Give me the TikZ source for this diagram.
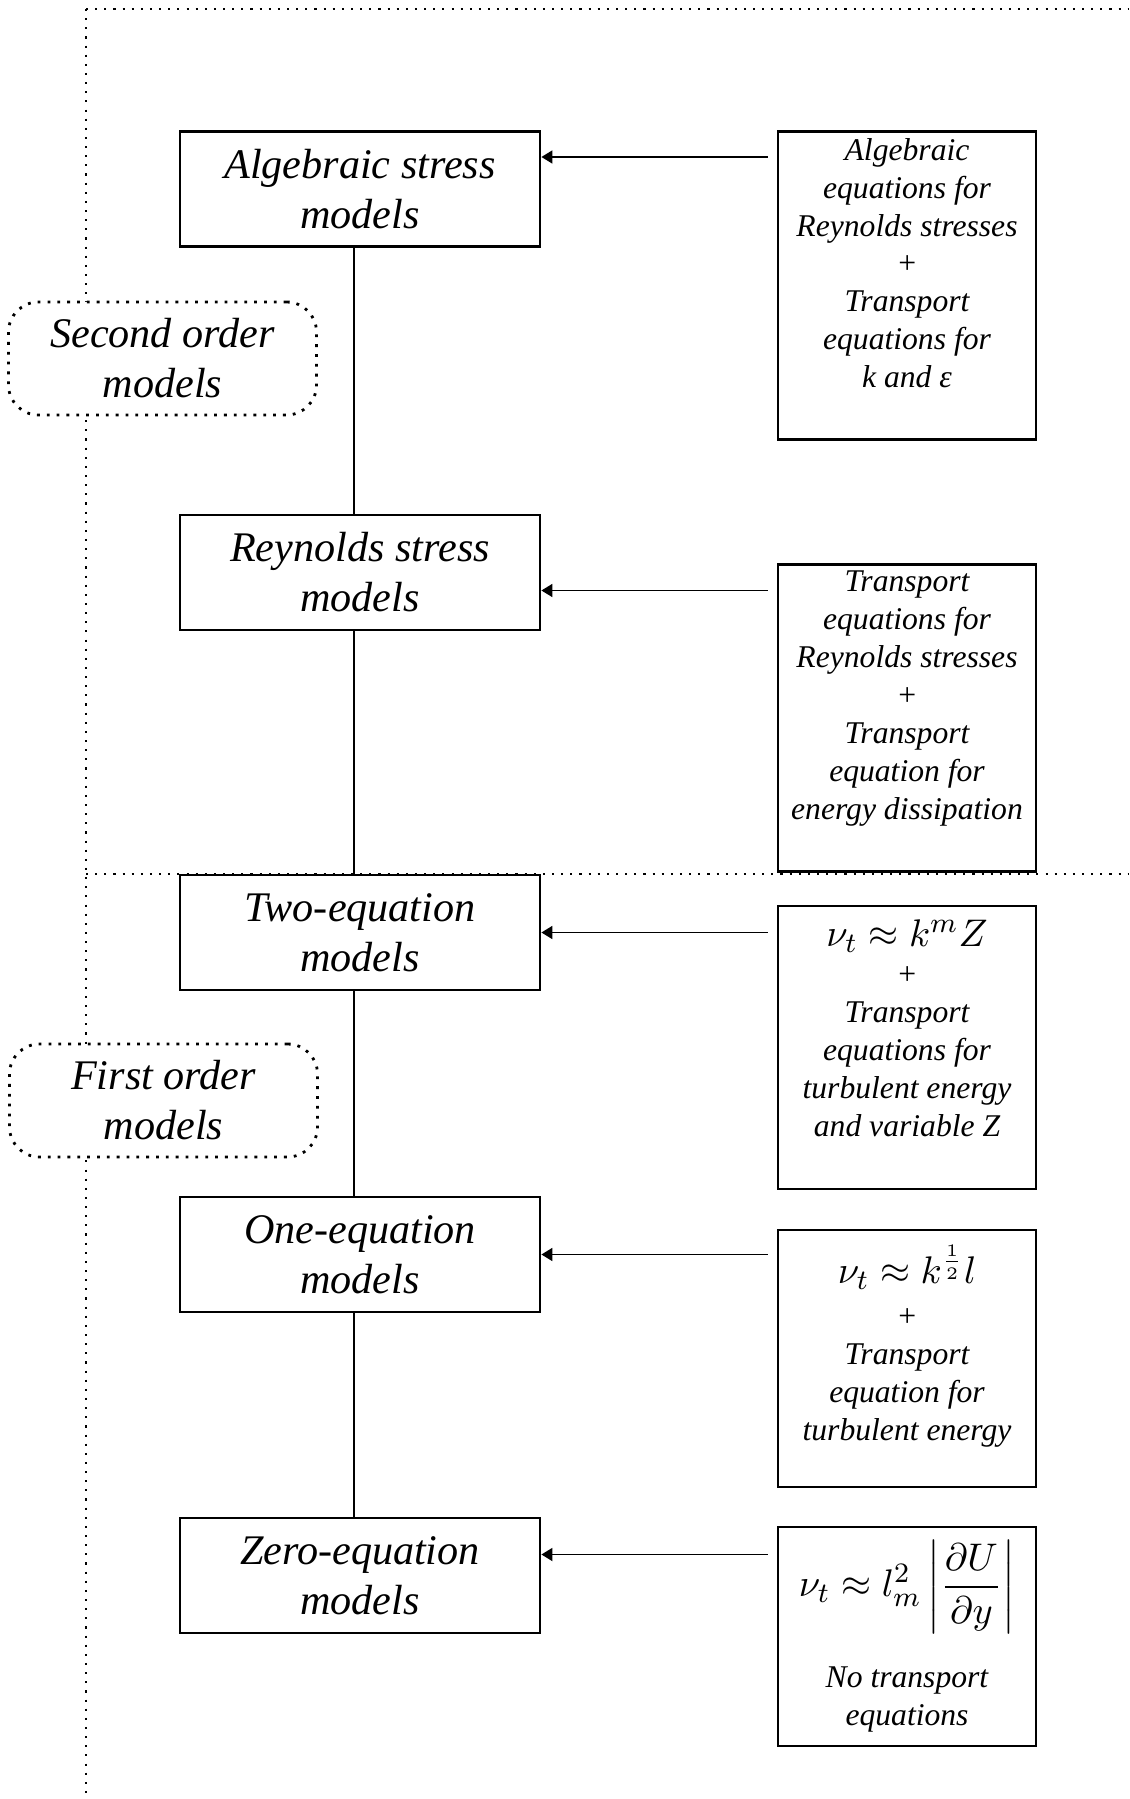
\documentclass[tikz,border=0pt]{standalone}
\usepackage{amsmath}
\usepackage{fontspec}
\setmainfont{Liberation Serif}
\usetikzlibrary{arrows.meta,positioning}
\tikzset{
  modelbox/.style={draw=black,line width=.8pt,fill=white,minimum width=3.6cm,
                   minimum height=1.15cm,inner sep=2pt,align=center,
                   font=\fontsize{12}{14.2}\selectfont\itshape},
  eqbox/.style={draw=black,line width=.8pt,fill=white,minimum width=2.58cm,
                inner sep=2pt,align=center,font=\fontsize{9}{10.8}\selectfont\itshape},
  orderbox/.style={draw=black,dotted,line width=.8pt,rounded corners=3mm,fill=white,
                   minimum width=3.08cm,minimum height=1.13cm,align=center,
                   font=\fontsize{12}{14.2}\selectfont\itshape},
  frame/.style={draw=black,dotted,line width=.6pt},
  link/.style={draw=black,line width=.6pt},
  feed/.style={-{Triangle[length=1.1mm,width=1.3mm]},draw=black,line width=.5pt,
               shorten <=.9mm},
}
\newcommand{\eqline}[1]{{\fontsize{11}{13}\selectfont$#1$}}

\begin{document}
\begin{tikzpicture}[x=1cm,y=1cm]
  \useasboundingbox (0,0) rectangle (11.29,-17.99);
  % ---------------- frame ----------------
  \draw[frame] (0.86,-0.09) -- (11.29,-0.09);
  \draw[frame] (0.86,-0.09) -- (0.86,-17.99);
  \draw[frame] (0.86,-8.74) -- (11.29,-8.74);
  % ---------------- model boxes ----------------
  \node[modelbox] (algStress) at (3.60,-1.89)   {Algebraic stress\\models};
  \node[modelbox] (reyStress) at (3.60,-5.725)  {Reynolds stress\\models};
  \node[modelbox] (twoEq)     at (3.60,-9.325)  {Two-equation\\models};
  \node[modelbox] (oneEq)     at (3.60,-12.545) {One-equation\\models};
  \node[modelbox] (zeroEq)    at (3.60,-15.755) {Zero-equation\\models};
  % ---------------- equation boxes ----------------
  \node[eqbox,minimum height=3.05cm,text depth=4.5mm] (algEqs) at (9.07,-2.855)
    {Algebraic\\equations for\\Reynolds stresses\\+\\Transport\\equations for\\k and ε};
  \node[eqbox,minimum height=3.06cm,text depth=4.5mm] (reyEqs) at (9.07,-7.18)
    {Transport\\equations for\\Reynolds stresses\\+\\Transport\\equation for\\energy dissipation};
  \node[eqbox,minimum height=2.83cm,text depth=3.9mm] (twoEqs) at (9.07,-10.475)
    {\eqline{\nu_t \approx k^m Z}\\+\\Transport\\equations for\\turbulent energy\\and variable Z};
  \node[eqbox,minimum height=2.57cm,text depth=3.1mm] (oneEqs) at (9.07,-13.585)
    {\eqline{\nu_t \approx k^{\frac{1}{2}} l}\\[.5mm]+\\Transport\\equation for\\turbulent energy};
  \node[eqbox,minimum height=2.19cm] (zeroEqs) at (9.07,-16.365)
    {\eqline{\nu_t \approx l_m^2\left|\dfrac{\partial U}{\partial y}\right|}\\[3mm]
     No transport\\equations};
  % ---------------- order labels ----------------
  \node[orderbox] (secondOrder) at (1.625,-3.585) {Second order\\models};
  \node[orderbox] (firstOrder)  at (1.635,-11.005) {First order\\models};
  % ---------------- links ----------------
  \foreach \a/\b in {algStress/reyStress,reyStress/twoEq,twoEq/oneEq,oneEq/zeroEq}
    \draw[link] ([xshift=-.6mm]\a.south) -- ([xshift=-.6mm]\b.north);
  % ---------------- feeds ----------------
  \foreach \m/\e/\dy in {algStress/algEqs/3.2mm,reyStress/reyEqs/-1.8mm,
      twoEq/twoEqs/0mm,oneEq/oneEqs/0mm,zeroEq/zeroEqs/2.1mm}
    \draw[feed] ([yshift=\dy]\m.east -| \e.west) -- ([yshift=\dy]\m.east);
\end{tikzpicture}
\end{document}
